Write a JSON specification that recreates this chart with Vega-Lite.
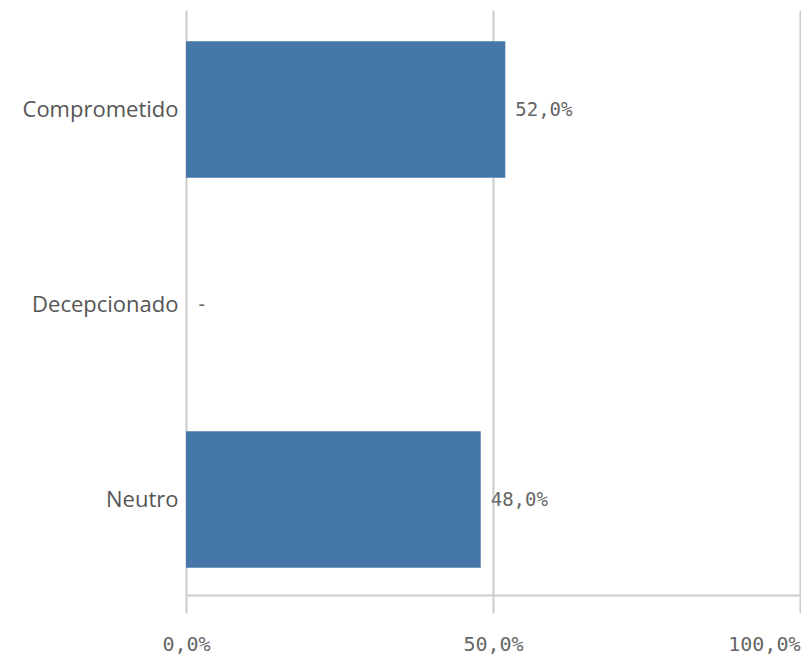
{
  "$schema": "https://vega.github.io/schema/vega-lite/v6.json",
  "width": 614,
  "height": 585,
  "autosize": {"type": "none"},
  "padding": {"left": 186, "top": 10, "right": 1, "bottom": 62},
  "background": "white",
  "config": {"view": {"stroke": null}},
  "data": {
    "values": [
      {"category": "Comprometido", "value": 0.52, "label": "52,0%"},
      {"category": "Decepcionado", "value": 0.0, "label": "-"},
      {"category": "Neutro", "value": 0.48, "label": "48,0%"}
    ]
  },
  "encoding": {
    "y": {
      "field": "category",
      "type": "nominal",
      "sort": ["Comprometido", "Decepcionado", "Neutro"],
      "scale": {"paddingInner": 0.3, "paddingOuter": 0.15, "align": 0.535},
      "axis": {
        "title": null,
        "domain": false,
        "ticks": false,
        "labelPadding": 8,
        "labelFont": "Open Sans",
        "labelFontSize": 22,
        "labelColor": "#555555"
      }
    },
    "x": {
      "field": "value",
      "type": "quantitative",
      "scale": {"domain": [0, 1], "nice": false},
      "axis": {
        "title": null,
        "values": [0, 0.5, 1],
        "labelExpr": "replace(format(datum.value, '.1%'), '.', ',')",
        "labelAlign": {"expr": "datum.value == 1 ? 'right' : 'center'"},
        "labelFont": "DejaVu Sans Mono",
        "labelFontSize": 20,
        "labelColor": "#666666",
        "labelPadding": 21,
        "labelFlush": false,
        "tickSize": 18,
        "tickColor": "#cccccc",
        "tickWidth": 2,
        "domainColor": "#cccccc",
        "domainWidth": 2,
        "gridColor": "#cccccc",
        "gridWidth": 2
      }
    }
  },
  "layer": [
    {
      "mark": {"type": "bar", "color": "#4577a8"}
    },
    {
      "mark": {
        "type": "text",
        "align": "left",
        "baseline": "middle",
        "dx": 10,
        "font": "DejaVu Sans Mono",
        "fontSize": 19,
        "color": "#666666"
      },
      "encoding": {"text": {"field": "label"}}
    }
  ]
}
